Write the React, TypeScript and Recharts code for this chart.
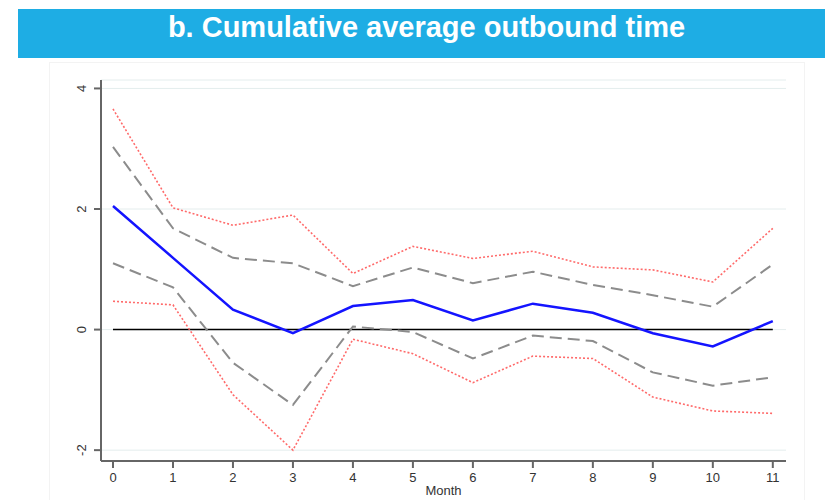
import React from 'react';
import { LineChart, Line, XAxis, YAxis, CartesianGrid } from 'recharts';

const months = [0, 1, 2, 3, 4, 5, 6, 7, 8, 9, 10, 11];
const estimate = [2.05, 1.19, 0.33, -0.06, 0.39, 0.49, 0.15, 0.43, 0.28, -0.06, -0.28, 0.14];
const ci90Upper = [3.03, 1.68, 1.19, 1.1, 0.72, 1.03, 0.77, 0.96, 0.74, 0.57, 0.38, 1.08];
const ci90Lower = [1.1, 0.7, -0.55, -1.25, 0.05, -0.04, -0.48, -0.1, -0.19, -0.71, -0.93, -0.79];
const ci95Upper = [3.66, 2.02, 1.73, 1.9, 0.93, 1.38, 1.18, 1.3, 1.04, 0.99, 0.79, 1.68];
const ci95Lower = [0.47, 0.41, -1.08, -2.0, -0.16, -0.4, -0.88, -0.44, -0.48, -1.12, -1.35, -1.39];
const zeroLine = [0, 0, 0, 0, 0, 0, 0, 0, 0, 0, 0, 0];
const yTicks = [-2, 0, 2, 4];

const data = months.map((m, i) => ({
  month: m,
  est: estimate[i],
  u90: ci90Upper[i],
  l90: ci90Lower[i],
  u95: ci95Upper[i],
  l95: ci95Lower[i],
  zero: zeroLine[i],
}));

const FONT = 'Liberation Sans, Arial, sans-serif';

const YTick = (props: any) => {
  const { x, y, payload } = props;
  return (
    <text
      x={x}
      y={y}
      transform={`rotate(-90 ${x} ${y})`}
      textAnchor="middle"
      fontSize={13}
      fill="#333"
      fontFamily={FONT}
    >
      {payload.value}
    </text>
  );
};

export default function App() {
  return (
    <div style={{ position: 'absolute', left: 0, top: 0, width: 825, height: 500, background: '#fff' }}>
      <div
        style={{
          position: 'absolute',
          left: 18,
          top: 9,
          width: 807,
          height: 49,
          background: '#1EADE4',
        }}
      />
      <div
        style={{
          position: 'absolute',
          left: 0,
          top: 11,
          width: 853,
          height: 32,
          lineHeight: '32px',
          textAlign: 'center',
          color: '#fff',
          fontWeight: 'bold',
          fontSize: 29,
          fontFamily: FONT,
          whiteSpace: 'nowrap',
        }}
      >
        b. Cumulative average outbound time
      </div>
      <div
        style={{
          position: 'absolute',
          left: 49,
          top: 62,
          width: 756,
          height: 440,
          border: '1px solid #f3f3f3',
          boxSizing: 'border-box',
        }}
      />
      <div style={{ position: 'absolute', left: 0, top: 0 }}>
        <LineChart
          width={825}
          height={500}
          data={data}
          margin={{ top: 80, right: 39, bottom: 0, left: 40 }}
        >
          <CartesianGrid horizontal={true} vertical={false} stroke="#e4eded" strokeWidth={1} />
          <XAxis
            dataKey="month"
            type="number"
            domain={[-0.2, 11.22]}
            ticks={months}
            interval={0}
            height={39}
            tickSize={7}
            tickMargin={5}
            stroke="#666"
            strokeWidth={2}
            tick={{ fontSize: 13, fill: '#333', fontFamily: FONT }}
            label={{
              value: 'Month',
              position: 'insideBottom',
              offset: 5,
              fontSize: 13,
              fill: '#333',
              fontFamily: FONT,
            }}
          />
          <YAxis
            type="number"
            domain={[-2.18, 4.14]}
            ticks={yTicks}
            width={61}
            tickSize={7}
            tickMargin={8}
            stroke="#666"
            strokeWidth={2}
            tick={<YTick />}
            allowDataOverflow={true}
          />
          <Line dataKey="zero" stroke="#000" strokeWidth={1.5} dot={false} isAnimationActive={false} />
          <Line dataKey="u95" stroke="#ff6a6a" strokeWidth={1.6} strokeDasharray="2 2" dot={false} isAnimationActive={false} />
          <Line dataKey="l95" stroke="#ff6a6a" strokeWidth={1.6} strokeDasharray="2 2" dot={false} isAnimationActive={false} />
          <Line dataKey="u90" stroke="#8c8c8c" strokeWidth={2} strokeDasharray="12 6" dot={false} isAnimationActive={false} />
          <Line dataKey="l90" stroke="#8c8c8c" strokeWidth={2} strokeDasharray="12 6" dot={false} isAnimationActive={false} />
          <Line dataKey="est" stroke="#1414ff" strokeWidth={2.5} dot={false} isAnimationActive={false} />
        </LineChart>
      </div>
    </div>
  );
}
